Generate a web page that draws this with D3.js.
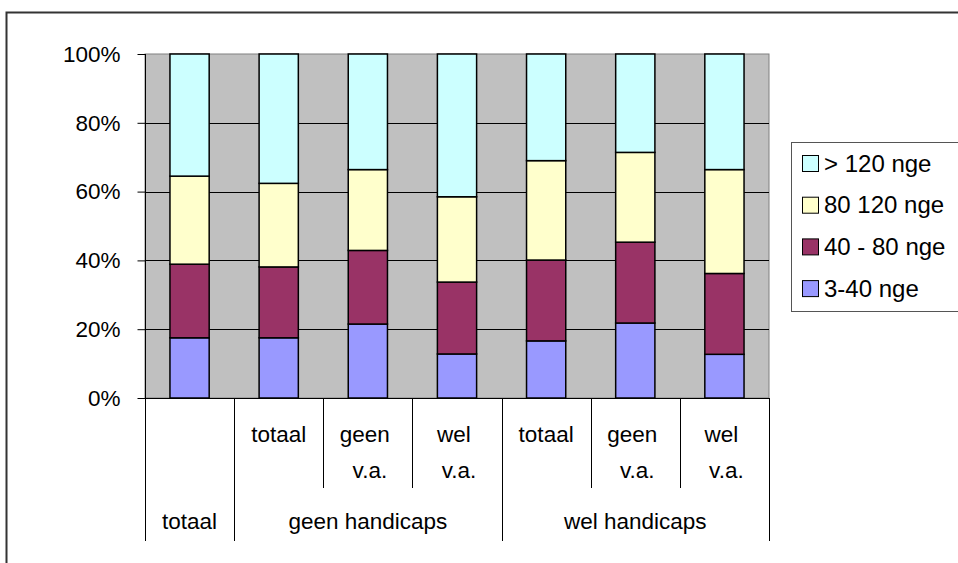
<!DOCTYPE html>
<html>
<head>
<meta charset="utf-8">
<script src="https://cdn.jsdelivr.net/npm/d3@7"></script>
<style>
  html, body { margin: 0; padding: 0; background: #fff; }
  svg text { font-family: Arial, "Liberation Sans", sans-serif; fill: #000; }
</style>
</head>
<body>
<svg id="chart" width="958" height="563"></svg>
<script>
// ---- data ----
const innerLabels = [[""], ["totaal"], ["geen", "v.a."], ["wel", "v.a."], ["totaal"], ["geen", "v.a."], ["wel", "v.a."]];
const groupLabels = ["totaal", "geen handicaps", "wel handicaps"];
const groupSpans = [1, 3, 3];
const seriesNames = ["3-40 nge", "40 - 80 nge", "80 120 nge", "> 120 nge"];
const seriesColors = ["#9999FF", "#993366", "#FFFFCC", "#CCFFFF"];
const s3_40   = [17.5, 17.5, 21.5, 12.8, 16.6, 21.8, 12.7];
const s40_80  = [21.4, 20.6, 21.4, 20.9, 23.5, 23.5, 23.5];
const s80_120 = [25.6, 24.3, 23.5, 24.8, 28.9, 26.1, 30.2];
const s120    = [35.5, 37.6, 33.6, 41.5, 31.0, 28.6, 33.6];
const yTicks = [0, 20, 40, 60, 80, 100];

// ---- layout ----
const svg = d3.select("#chart");
const L = 145, R = 769, T = 54, B = 398;
const FS = 22.5;

// outer border
svg.append("rect").attr("x", 6.5).attr("y", 12.5).attr("width", 1000).attr("height", 600)
  .attr("fill", "#fff").attr("stroke", "#333").attr("stroke-width", 2);

const n = innerLabels.length;
const idx = d3.range(n);
const x = d3.scaleBand().domain(idx).range([L, R]).paddingInner(0.56).paddingOuter(0.28);
const xb = d3.scaleLinear().domain([0, n]).range([L, R]);
const y = d3.scaleLinear().domain([0, 100]).range([B, T]);

// plot area
svg.append("rect").attr("x", L).attr("y", T).attr("width", R - L).attr("height", B - T)
  .attr("fill", "#C0C0C0").attr("stroke", "#808080").attr("stroke-width", 1);

// gridlines
svg.append("g").selectAll("line").data(yTicks.filter(d => d > 0 && d < 100)).join("line")
  .attr("x1", L).attr("x2", R)
  .attr("y1", d => Math.round(y(d)) + 0.5).attr("y2", d => Math.round(y(d)) + 0.5)
  .attr("stroke", "#000").attr("stroke-width", 1);

// y axis
const yAxis = d3.axisLeft(y).tickValues(yTicks).tickFormat(d => d + "%").tickSize(8).tickPadding(17);
const gy = svg.append("g").attr("transform", `translate(${L + 0.5},0)`).call(yAxis);
gy.select(".domain").remove();
gy.selectAll(".tick line").attr("stroke", "#000");
gy.selectAll(".tick text").style("font-size", FS + "px").attr("fill", "#000")
  .style("font-family", 'Arial, "Liberation Sans", sans-serif');

// stacked bars
const rows = idx.map(i => ({ i, v: [s3_40[i], s40_80[i], s80_120[i], s120[i]] }));
const stack = d3.stack().keys([0, 1, 2, 3]).value((d, k) => d.v[k]);
const series = stack(rows);
svg.append("g").selectAll("g").data(series).join("g")
  .attr("fill", (d, k) => seriesColors[k])
  .selectAll("rect").data(d => d).join("rect")
  .attr("x", d => x(d.data.i))
  .attr("width", x.bandwidth())
  .attr("y", d => y(d[1]))
  .attr("height", d => y(d[0]) - y(d[1]))
  .attr("stroke", "#000").attr("stroke-width", 1.5);

// axis lines
svg.append("line").attr("x1", L + 0.5).attr("x2", L + 0.5).attr("y1", T).attr("y2", 541)
  .attr("stroke", "#000").attr("stroke-width", 1);
svg.append("line").attr("x1", L).attr("x2", R).attr("y1", B + 0.5).attr("y2", B + 0.5)
  .attr("stroke", "#000").attr("stroke-width", 1.2);

// category separators (multi-level)
const groupBounds = [0];
groupSpans.forEach(s => groupBounds.push(groupBounds[groupBounds.length - 1] + s));
const sepData = d3.range(1, n + 1).map(b => ({ b, full: groupBounds.includes(b) }));
svg.append("g").selectAll("line").data(sepData).join("line")
  .attr("x1", d => Math.round(xb(d.b)) + 0.5).attr("x2", d => Math.round(xb(d.b)) + 0.5)
  .attr("y1", B).attr("y2", d => d.full ? 541 : 488)
  .attr("stroke", "#000").attr("stroke-width", 1);

// inner labels
const lab = svg.append("g").style("font-size", FS + "px");
idx.forEach(i => {
  const lines = innerLabels[i];
  lines.forEach((t, j) => {
    const shift = (lines.length > 1 && j === 0) ? -3 : (lines.length > 1 ? 2 : 0);
    lab.append("text").attr("x", x(i) + x.bandwidth() / 2 + shift).attr("y", 434 + j * 36)
      .attr("text-anchor", "middle").attr("dominant-baseline", "central").text(t);
  });
});
// group labels
groupLabels.forEach((g, k) => {
  const cx = (xb(groupBounds[k]) + xb(groupBounds[k + 1])) / 2;
  lab.append("text").attr("x", cx).attr("y", 521)
    .attr("text-anchor", "middle").attr("dominant-baseline", "central").text(g);
});

// legend
const lg = svg.append("g");
lg.append("rect").attr("x", 791.5).attr("y", 142.5).attr("width", 200).attr("height", 169)
  .attr("fill", "#fff").attr("stroke", "#555").attr("stroke-width", 1);
const legOrder = [3, 2, 1, 0];
legOrder.forEach((k, r) => {
  const cy = 163 + r * 41.7;
  lg.append("rect").attr("x", 802.5).attr("y", cy - 7.5).attr("width", 16).attr("height", 16)
    .attr("fill", seriesColors[k]).attr("stroke", "#000").attr("stroke-width", 1);
  lg.append("text").attr("x", 824).attr("y", cy).attr("dominant-baseline", "central")
    .style("font-size", "24px").text(seriesNames[k]);
});
</script>
</body>
</html>
